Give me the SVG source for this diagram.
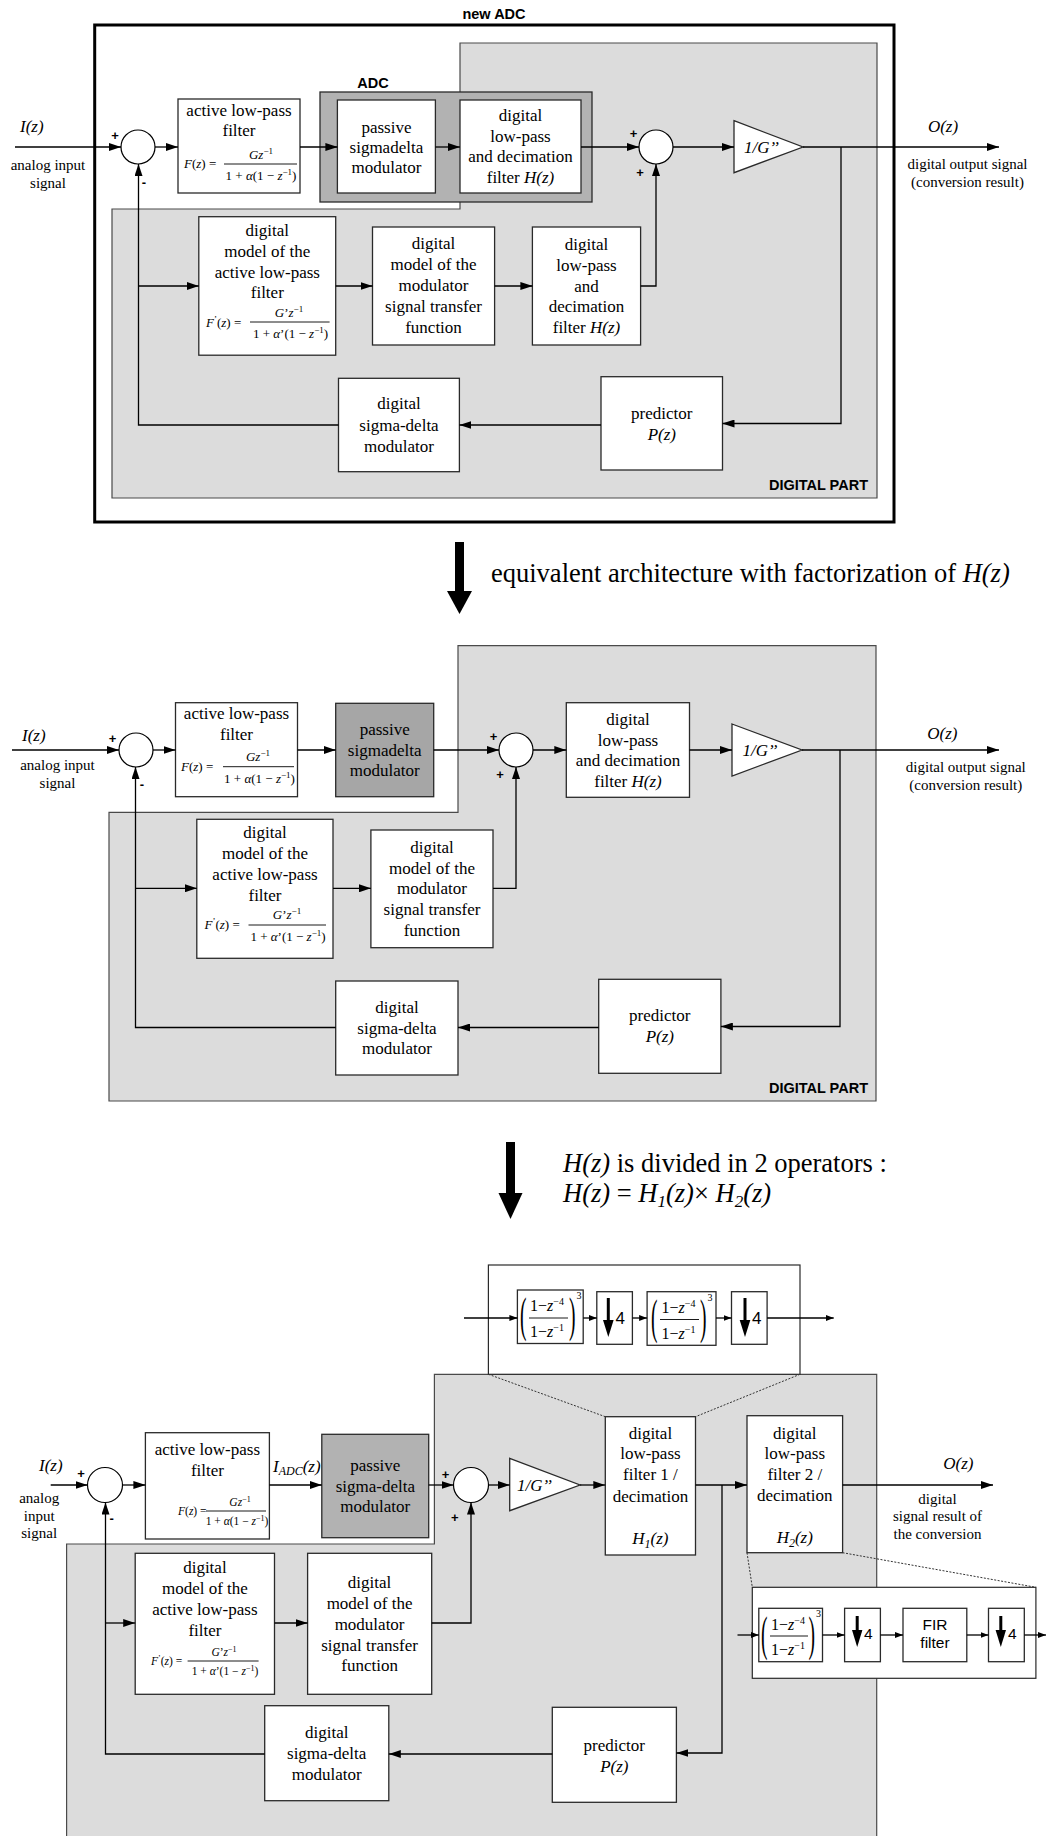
<svg xmlns="http://www.w3.org/2000/svg" width="1047" height="1836" viewBox="0 0 1047 1836">
<style>
.bg{fill:#fff}
.nd{fill:#fff;stroke:#2a2a2a;stroke-width:1.3}
.dk{fill:#b2b2b2;stroke:#2a2a2a;stroke-width:1.3}
.dk2{fill:#a6a6a6;stroke:#2a2a2a;stroke-width:1.3}
.gr{fill:#dcdcdc;stroke:#4a4a4a;stroke-width:1.2}
.zb{fill:#fff;stroke:#2a2a2a;stroke-width:1.2}
.sum{fill:#fff;stroke:#000;stroke-width:1.2}
.c{fill:none;stroke:#000;stroke-width:1.3}
.a{marker-end:url(#ah)}
.as{marker-end:url(#as)}
.dot{fill:none;stroke:#333;stroke-width:1;stroke-dasharray:2 1.5}
.bar{stroke:#000;stroke-width:0.9}
.t{font-family:"Liberation Serif","Times New Roman",serif;font-size:17px;text-anchor:middle;fill:#000}
.s{font-family:"Liberation Serif","Times New Roman",serif;font-size:15px;text-anchor:middle;fill:#000}
.i{font-style:italic}
.f{font-family:"Liberation Serif","Times New Roman",serif;font-size:13px;fill:#000}
.fs{font-family:"Liberation Serif","Times New Roman",serif;font-size:11.5px;fill:#000}
.m{text-anchor:middle}
.st{text-anchor:start}
.b{font-family:"Liberation Sans",Arial,sans-serif;font-weight:bold;font-size:14.5px;fill:#000}
.pm{font-family:"Liberation Sans",Arial,sans-serif;font-weight:bold;font-size:13px;text-anchor:middle;fill:#000}
.big{font-family:"Liberation Serif","Times New Roman",serif;font-size:26.5px;fill:#000}
.sa{font-family:"Liberation Sans",Arial,sans-serif;fill:#000}
.cf{font-family:"Liberation Serif","Times New Roman",serif;font-size:16px;text-anchor:middle;fill:#000}
.par{font-family:"Liberation Serif","Times New Roman",serif;font-size:26px;fill:#000}
.sup3{font-family:"Liberation Serif","Times New Roman",serif;font-size:10px;fill:#000}
</style>
<defs>
<marker id="ah" viewBox="0 0 12 8" refX="12" refY="4" markerWidth="12" markerHeight="8" markerUnits="userSpaceOnUse" orient="auto"><path d="M0,0L12,4L0,8z" fill="#000"/></marker>
<marker id="as" viewBox="0 0 8 6" refX="8" refY="3" markerWidth="8" markerHeight="6" markerUnits="userSpaceOnUse" orient="auto"><path d="M0,0L8,3L0,6z" fill="#000"/></marker>
</defs>
<rect class="bg" x="0" y="0" width="1047" height="1836"/>

<!-- ================= SECTION 1 ================= -->
<g id="s1-frame">
<rect x="94.7" y="25" width="799.3" height="497" fill="#fff" stroke="#000" stroke-width="3"/>
<text class="b" x="494" y="18.5" text-anchor="middle">new ADC</text>
</g>
<g id="s1-digital-part">
<path class="gr" d="M460,43H877V498H112V209H460Z"/>
<text class="b" x="868" y="490" text-anchor="end">DIGITAL PART</text>
</g>
<g id="s1-adc">
<rect class="dk" x="320" y="92" width="272" height="110"/>
<text class="b" x="373" y="87.5" text-anchor="middle">ADC</text>
</g>
<g id="s1-sum1"><circle class="sum" cx="138" cy="147" r="17"/>
<text class="pm" x="115" y="139.5">+</text><text class="pm" x="144" y="187">-</text></g>
<g id="s1-alpf">
<rect class="nd" x="178" y="99" width="122" height="94"/>
<text class="t" x="239" y="116">active low-pass</text>
<text class="t" x="239" y="136">filter</text>
<text class="f" x="184" y="168"><tspan class="i">F</tspan>(<tspan class="i">z</tspan>) =</text>
<text class="f m" x="261" y="159"><tspan class="i">Gz</tspan><tspan dy="-5" font-size="9">−1</tspan></text>
<line class="bar" x1="224" y1="164" x2="297" y2="164"/>
<text class="f m" x="261" y="180">1 + <tspan class="i">α</tspan>(1 − <tspan class="i">z</tspan><tspan dy="-5" font-size="9">−1</tspan><tspan dy="5">)</tspan></text>
</g>
<g id="s1-psdm">
<rect class="nd" x="337.4" y="100" width="98" height="93"/>
<text class="t" x="386.4" y="132.5">passive</text>
<text class="t" x="386.4" y="152.5">sigmadelta</text>
<text class="t" x="386.4" y="172.5">modulator</text>
</g>
<g id="s1-dlpf">
<rect class="nd" x="460" y="100" width="121" height="93"/>
<text class="t" x="520.5" y="121">digital</text>
<text class="t" x="520.5" y="142">low-pass</text>
<text class="t" x="520.5" y="162">and decimation</text>
<text class="t" x="520.5" y="183">filter <tspan class="i">H(z)</tspan></text>
</g>
<g id="s1-sum2"><circle class="sum" cx="656" cy="147" r="17"/>
<text class="pm" x="633.6" y="137.5">+</text><text class="pm" x="640" y="176.5">+</text></g>
<g id="s1-gain">
<polygon class="nd" points="734,120.7 803,147 734,172.7"/>
<text class="t i st" x="744" y="153">1/G’’</text>
</g>
<g id="s1-io">
<text class="t i st" x="20" y="132">I(z)</text>
<text class="s" x="48" y="170">analog input</text>
<text class="s" x="48" y="187.5">signal</text>
<text class="t i" x="943" y="132">O(z)</text>
<text class="s" x="967.5" y="169">digital output signal</text>
<text class="s" x="967.5" y="186.5">(conversion result)</text>
</g>
<g id="s1-mlpf">
<rect class="nd" x="198.8" y="216.7" width="136.9" height="138.5"/>
<text class="t" x="267.3" y="236">digital</text>
<text class="t" x="267.3" y="257">model of the</text>
<text class="t" x="267.3" y="278">active low-pass</text>
<text class="t" x="267.3" y="298">filter</text>
<text class="f" x="206" y="327"><tspan class="i">F</tspan><tspan dy="-5" font-size="9">’</tspan><tspan dy="5">(</tspan><tspan class="i">z</tspan>) =</text>
<text class="f m" x="289" y="317"><tspan class="i">G</tspan>’<tspan class="i">z</tspan><tspan dy="-5" font-size="9">−1</tspan></text>
<line class="bar" x1="250" y1="322" x2="329.6" y2="322"/>
<text class="f m" x="290.5" y="338">1 + <tspan class="i">α</tspan>’(1 − <tspan class="i">z</tspan><tspan dy="-5" font-size="9">−1</tspan><tspan dy="5">)</tspan></text>
</g>
<g id="s1-mstf">
<rect class="nd" x="372.5" y="227" width="122.1" height="118"/>
<text class="t" x="433.5" y="249">digital</text>
<text class="t" x="433.5" y="270">model of the</text>
<text class="t" x="433.5" y="291">modulator</text>
<text class="t" x="433.5" y="312">signal transfer</text>
<text class="t" x="433.5" y="333">function</text>
</g>
<g id="s1-dlpf2">
<rect class="nd" x="532.4" y="227" width="108.2" height="118"/>
<text class="t" x="586.5" y="250">digital</text>
<text class="t" x="586.5" y="271">low-pass</text>
<text class="t" x="586.5" y="292">and</text>
<text class="t" x="586.5" y="312">decimation</text>
<text class="t" x="586.5" y="333">filter <tspan class="i">H(z)</tspan></text>
</g>
<g id="s1-dsdm">
<rect class="nd" x="338.5" y="378.3" width="120.9" height="93.4"/>
<text class="t" x="399" y="409">digital</text>
<text class="t" x="399" y="430.5">sigma-delta</text>
<text class="t" x="399" y="452">modulator</text>
</g>
<g id="s1-pred">
<rect class="nd" x="601" y="376.7" width="121.5" height="93.3"/>
<text class="t" x="661.8" y="419">predictor</text>
<text class="t i" x="661.8" y="440">P(z)</text>
</g>
<g id="s1-connectors">
<path class="c a" d="M15,147H121"/>
<path class="c a" d="M155,147H178"/>
<path class="c a" d="M300,147H337.4"/>
<path class="c a" d="M435.4,147H460"/>
<path class="c a" d="M581,147H639"/>
<path class="c a" d="M673,147H734"/>
<path class="c a" d="M803,147H999"/>
<path class="c a" d="M841,147V423.5H722.5"/>
<path class="c a" d="M601,425H459.4"/>
<path class="c a" d="M338.5,425H138.5V164"/>
<path class="c a" d="M138.5,286H198.8"/>
<path class="c a" d="M335.7,286H372.5"/>
<path class="c a" d="M494.6,286H532.4"/>
<path class="c a" d="M640.6,286H656V164"/>
</g>

<!-- transition 1 -->
<g id="t1">
<rect x="455" y="542" width="9" height="51" fill="#000"/>
<polygon points="447,591 472,591 459.5,614" fill="#000"/>
<text class="big" x="491" y="582">equivalent architecture with factorization of <tspan class="i">H(z)</tspan></text>
</g>

<!-- ================= SECTION 2 ================= -->
<g id="s2-digital-part">
<path class="gr" d="M458,645.7H876V1101H109V812.3H458Z"/>
<text class="b" x="868" y="1093" text-anchor="end">DIGITAL PART</text>
</g>
<g id="s2-sum1"><circle class="sum" cx="136" cy="750" r="17"/>
<text class="pm" x="112.6" y="742.5">+</text><text class="pm" x="142" y="789">-</text></g>
<g id="s2-alpf">
<rect class="nd" x="175.5" y="702.7" width="122" height="94"/>
<text class="t" x="236.5" y="719">active low-pass</text>
<text class="t" x="236.5" y="740">filter</text>
<text class="f" x="181" y="771"><tspan class="i">F</tspan>(<tspan class="i">z</tspan>) =</text>
<text class="f m" x="258" y="761"><tspan class="i">Gz</tspan><tspan dy="-5" font-size="9">−1</tspan></text>
<line class="bar" x1="223" y1="766.7" x2="294" y2="766.7"/>
<text class="f m" x="259.5" y="783">1 + <tspan class="i">α</tspan>(1 − <tspan class="i">z</tspan><tspan dy="-5" font-size="9">−1</tspan><tspan dy="5">)</tspan></text>
</g>
<g id="s2-psdm">
<rect class="dk2" x="335.7" y="703.3" width="98" height="93.4"/>
<text class="t" x="384.7" y="735">passive</text>
<text class="t" x="384.7" y="755.5">sigmadelta</text>
<text class="t" x="384.7" y="776">modulator</text>
</g>
<g id="s2-sum2"><circle class="sum" cx="516" cy="750" r="17"/>
<text class="pm" x="493.6" y="741">+</text><text class="pm" x="500" y="778.5">+</text></g>
<g id="s2-dlpf">
<rect class="nd" x="566.3" y="702.7" width="123.2" height="94.6"/>
<text class="t" x="628" y="725">digital</text>
<text class="t" x="628" y="746">low-pass</text>
<text class="t" x="628" y="766">and decimation</text>
<text class="t" x="628" y="787">filter <tspan class="i">H(z)</tspan></text>
</g>
<g id="s2-gain">
<polygon class="nd" points="732,724 802,750 732,776"/>
<text class="t i st" x="742.5" y="756">1/G’’</text>
</g>
<g id="s2-io">
<text class="t i st" x="22" y="741">I(z)</text>
<text class="s" x="57.5" y="770">analog input</text>
<text class="s" x="57.5" y="788">signal</text>
<text class="t i" x="942.4" y="739">O(z)</text>
<text class="s" x="965.8" y="771.5">digital output signal</text>
<text class="s" x="965.8" y="790">(conversion result)</text>
</g>
<g id="s2-mlpf">
<rect class="nd" x="196.8" y="819.3" width="136.2" height="139"/>
<text class="t" x="265" y="838">digital</text>
<text class="t" x="265" y="859">model of the</text>
<text class="t" x="265" y="880">active low-pass</text>
<text class="t" x="265" y="901">filter</text>
<text class="f" x="204.5" y="929"><tspan class="i">F</tspan><tspan dy="-5" font-size="9">’</tspan><tspan dy="5">(</tspan><tspan class="i">z</tspan>) =</text>
<text class="f m" x="287" y="919"><tspan class="i">G</tspan>’<tspan class="i">z</tspan><tspan dy="-5" font-size="9">−1</tspan></text>
<line class="bar" x1="248.5" y1="925" x2="326" y2="925"/>
<text class="f m" x="288" y="941">1 + <tspan class="i">α</tspan>’(1 − <tspan class="i">z</tspan><tspan dy="-5" font-size="9">−1</tspan><tspan dy="5">)</tspan></text>
</g>
<g id="s2-mstf">
<rect class="nd" x="370.9" y="830" width="122.1" height="117.7"/>
<text class="t" x="432" y="853">digital</text>
<text class="t" x="432" y="874">model of the</text>
<text class="t" x="432" y="894">modulator</text>
<text class="t" x="432" y="915">signal transfer</text>
<text class="t" x="432" y="936">function</text>
</g>
<g id="s2-dsdm">
<rect class="nd" x="335.7" y="981" width="122.3" height="94"/>
<text class="t" x="397" y="1013">digital</text>
<text class="t" x="397" y="1033.5">sigma-delta</text>
<text class="t" x="397" y="1054">modulator</text>
</g>
<g id="s2-pred">
<rect class="nd" x="598.7" y="979.3" width="122.2" height="94"/>
<text class="t" x="659.8" y="1021">predictor</text>
<text class="t i" x="659.8" y="1042">P(z)</text>
</g>
<g id="s2-connectors">
<path class="c a" d="M12,750H119"/>
<path class="c a" d="M153,750H175.5"/>
<path class="c a" d="M297.5,750H335.7"/>
<path class="c a" d="M433.7,750H499"/>
<path class="c a" d="M533,750H566.3"/>
<path class="c a" d="M689.5,750H732"/>
<path class="c a" d="M802,750H999"/>
<path class="c a" d="M840,750V1026.5H720.9"/>
<path class="c a" d="M598.7,1027.5H458"/>
<path class="c a" d="M335.7,1027.5H135.5V767"/>
<path class="c a" d="M135.5,888.3H196.8"/>
<path class="c a" d="M333,888.3H370.9"/>
<path class="c a" d="M493,888.3H516V767"/>
</g>

<!-- transition 2 -->
<g id="t2">
<rect x="506" y="1142" width="9" height="52" fill="#000"/>
<polygon points="498.5,1193 522.5,1193 510.5,1219" fill="#000"/>
<text class="big" x="563" y="1172"><tspan class="i">H(z)</tspan> is divided in 2 operators :</text>
<text class="big" x="563" y="1202"><tspan class="i">H(z)</tspan> = <tspan class="i">H</tspan><tspan class="i" dy="5" font-size="17">1</tspan><tspan class="i" dy="-5">(z)</tspan>× <tspan class="i">H</tspan><tspan class="i" dy="5" font-size="17">2</tspan><tspan class="i" dy="-5">(z)</tspan></text>
</g>

<!-- ================= SECTION 3 ================= -->
<g id="s3-digital-part">
<path class="gr" d="M434.4,1374.3H876.7V1850H66.6V1544H434.4Z"/>
</g>
<g id="s3-zoom1">
<rect class="zb" x="488.4" y="1265" width="311.6" height="109.3"/>
<g id="s3-cic1">
<rect class="nd" x="517.4" y="1290" width="65.8" height="53.5"/>
<text class="par" transform="translate(520,1331) scale(0.75,1.85)">(</text>
<text class="cf" x="547" y="1311">1−<tspan class="i">z</tspan><tspan dy="-6" font-size="10">−4</tspan></text>
<line class="bar" x1="529" y1="1318" x2="568" y2="1318"/>
<text class="cf" x="547" y="1337">1−<tspan class="i">z</tspan><tspan dy="-6" font-size="10">−1</tspan></text>
<text class="par" transform="translate(569,1331) scale(0.75,1.85)">)</text>
<text class="sup3" x="576.5" y="1299">3</text>
</g>
<g id="s3-dec1">
<rect class="nd" x="596.8" y="1291.7" width="35.6" height="52.6"/>
<line x1="608.3" y1="1298" x2="608.3" y2="1322" stroke="#000" stroke-width="3"/>
<polygon points="603,1320 613.6,1320 608.3,1337" fill="#000"/>
<text class="sa" x="615.5" y="1324" font-size="17">4</text>
</g>
<g id="s3-cic2">
<rect class="nd" x="647.1" y="1291.7" width="68.9" height="53.6"/>
<text class="par" transform="translate(651,1332.5) scale(0.75,1.85)">(</text>
<text class="cf" x="678.5" y="1312.5">1−<tspan class="i">z</tspan><tspan dy="-6" font-size="10">−4</tspan></text>
<line class="bar" x1="660" y1="1319.5" x2="699" y2="1319.5"/>
<text class="cf" x="678.5" y="1338.5">1−<tspan class="i">z</tspan><tspan dy="-6" font-size="10">−1</tspan></text>
<text class="par" transform="translate(700,1332.5) scale(0.75,1.85)">)</text>
<text class="sup3" x="707.5" y="1300.5">3</text>
</g>
<g id="s3-dec2">
<rect class="nd" x="731.5" y="1291.7" width="35.6" height="52.6"/>
<line x1="745" y1="1298" x2="745" y2="1322" stroke="#000" stroke-width="3"/>
<polygon points="739.7,1320 750.3,1320 745,1337" fill="#000"/>
<text class="sa" x="752" y="1324" font-size="17">4</text>
</g>
</g>
<g id="s3-zoom2">
<rect class="zb" x="752.3" y="1587.3" width="283.6" height="91"/>
<g id="s3-cic3">
<rect class="nd" x="758.8" y="1608.3" width="63.7" height="53.4"/>
<text class="par" transform="translate(761,1649.5) scale(0.75,1.85)">(</text>
<text class="cf" x="788" y="1629.5">1−<tspan class="i">z</tspan><tspan dy="-6" font-size="10">−4</tspan></text>
<line class="bar" x1="770" y1="1636" x2="808" y2="1636"/>
<text class="cf" x="788" y="1655">1−<tspan class="i">z</tspan><tspan dy="-6" font-size="10">−1</tspan></text>
<text class="par" transform="translate(808.5,1649.5) scale(0.75,1.85)">)</text>
<text class="sup3" x="816" y="1617">3</text>
</g>
<g id="s3-dec3">
<rect class="nd" x="844.6" y="1608.3" width="35.8" height="53.4"/>
<line x1="857.2" y1="1616" x2="857.2" y2="1632" stroke="#000" stroke-width="3"/>
<polygon points="852,1630 862.4,1630 857.2,1647" fill="#000"/>
<text class="sa" x="864" y="1639" font-size="15.5">4</text>
</g>
<g id="s3-fir">
<rect class="nd" x="903" y="1608.3" width="63.8" height="53.4"/>
<text class="sa" x="935" y="1630" font-size="15.5" text-anchor="middle">FIR</text>
<text class="sa" x="935" y="1648" font-size="15.5" text-anchor="middle">filter</text>
</g>
<g id="s3-dec4">
<rect class="nd" x="988.5" y="1608.3" width="35.8" height="53.4"/>
<line x1="1000.8" y1="1616" x2="1000.8" y2="1632" stroke="#000" stroke-width="3"/>
<polygon points="995.6,1630 1006,1630 1000.8,1647" fill="#000"/>
<text class="sa" x="1008" y="1639" font-size="15.5">4</text>
</g>
</g>
<g id="s3-sum1"><circle class="sum" cx="105" cy="1485" r="17.5"/>
<text class="pm" x="81" y="1477.5">+</text><text class="pm" x="111.6" y="1523">-</text></g>
<g id="s3-alpf">
<rect class="nd" x="145.4" y="1432.7" width="124" height="106.3"/>
<text class="t" x="207.4" y="1455">active low-pass</text>
<text class="t" x="207.4" y="1476">filter</text>
<text class="fs" x="178" y="1515"><tspan class="i">F</tspan>(<tspan class="i">z</tspan>) =</text>
<text class="fs m" x="240" y="1506"><tspan class="i">Gz</tspan><tspan dy="-4.5" font-size="8">−1</tspan></text>
<line class="bar" x1="206" y1="1511" x2="266" y2="1511"/>
<text class="fs m" x="237" y="1525">1 + <tspan class="i">α</tspan>(1 − <tspan class="i">z</tspan><tspan dy="-4.5" font-size="8">−1</tspan><tspan dy="4.5">)</tspan></text>
</g>
<g id="s3-iadc">
<text class="t i st" x="273" y="1472">I<tspan dy="3" font-size="12">ADC</tspan><tspan dy="-3">(z)</tspan></text>
</g>
<g id="s3-psdm">
<rect class="dk" x="321.8" y="1434.3" width="106.9" height="103.4"/>
<text class="t" x="375.3" y="1471">passive</text>
<text class="t" x="375.3" y="1491.5">sigma-delta</text>
<text class="t" x="375.3" y="1512">modulator</text>
</g>
<g id="s3-sum2"><circle class="sum" cx="471" cy="1485" r="17.5"/>
<text class="pm" x="445.6" y="1478.5">+</text><text class="pm" x="454.7" y="1521.5">+</text></g>
<g id="s3-gain">
<polygon class="nd" points="509.7,1458.3 580,1485 509.7,1510.7"/>
<text class="t i st" x="517" y="1491">1/G’’</text>
</g>
<g id="s3-f1">
<rect class="nd" x="605.3" y="1416.7" width="90.2" height="138.3"/>
<text class="t" x="650.4" y="1438.5">digital</text>
<text class="t" x="650.4" y="1459">low-pass</text>
<text class="t" x="650.4" y="1480">filter 1 /</text>
<text class="t" x="650.4" y="1501.5">decimation</text>
<text class="t i" x="650.4" y="1544">H<tspan dy="4" font-size="12">1</tspan><tspan dy="-4">(z)</tspan></text>
</g>
<g id="s3-f2">
<rect class="nd" x="747" y="1415.7" width="95.6" height="137"/>
<text class="t" x="794.8" y="1438.5">digital</text>
<text class="t" x="794.8" y="1459">low-pass</text>
<text class="t" x="794.8" y="1480">filter 2 /</text>
<text class="t" x="794.8" y="1501">decimation</text>
<text class="t i" x="794.8" y="1543">H<tspan dy="4" font-size="12">2</tspan><tspan dy="-4">(z)</tspan></text>
</g>
<g id="s3-io">
<text class="t i st" x="39" y="1471">I(z)</text>
<text class="s" x="39.2" y="1503">analog</text>
<text class="s" x="39.2" y="1521">input</text>
<text class="s" x="39.2" y="1538">signal</text>
<text class="t i" x="958.4" y="1469">O(z)</text>
<text class="s" x="937.5" y="1503.5">digital</text>
<text class="s" x="937.5" y="1521">signal result of</text>
<text class="s" x="937.5" y="1538.5">the conversion</text>
</g>
<g id="s3-mlpf">
<rect class="nd" x="135.2" y="1553.3" width="139.3" height="141"/>
<text class="t" x="204.9" y="1573">digital</text>
<text class="t" x="204.9" y="1594">model of the</text>
<text class="t" x="204.9" y="1615">active low-pass</text>
<text class="t" x="204.9" y="1636">filter</text>
<text class="fs" x="151" y="1665"><tspan class="i">F</tspan><tspan dy="-4.5" font-size="8">’</tspan><tspan dy="4.5">(</tspan><tspan class="i">z</tspan>) =</text>
<text class="fs m" x="224" y="1656"><tspan class="i">G</tspan>’<tspan class="i">z</tspan><tspan dy="-4.5" font-size="8">−1</tspan></text>
<line class="bar" x1="187.6" y1="1661" x2="258.6" y2="1661"/>
<text class="fs m" x="225" y="1675">1 + <tspan class="i">α</tspan>’(1 − <tspan class="i">z</tspan><tspan dy="-4.5" font-size="8">−1</tspan><tspan dy="4.5">)</tspan></text>
</g>
<g id="s3-mstf">
<rect class="nd" x="307.6" y="1553.3" width="124.1" height="141"/>
<text class="t" x="369.6" y="1588">digital</text>
<text class="t" x="369.6" y="1609">model of the</text>
<text class="t" x="369.6" y="1629.5">modulator</text>
<text class="t" x="369.6" y="1651">signal transfer</text>
<text class="t" x="369.6" y="1671">function</text>
</g>
<g id="s3-dsdm">
<rect class="nd" x="264.7" y="1705.7" width="124.1" height="95"/>
<text class="t" x="326.7" y="1738">digital</text>
<text class="t" x="326.7" y="1759">sigma-delta</text>
<text class="t" x="326.7" y="1779.5">modulator</text>
</g>
<g id="s3-pred">
<rect class="nd" x="552.3" y="1707.3" width="124.1" height="95"/>
<text class="t" x="614.3" y="1751">predictor</text>
<text class="t i" x="614.3" y="1771.5">P(z)</text>
</g>
<g id="s3-connectors">
<path class="c a" d="M50.7,1485H87.5"/>
<path class="c a" d="M122.5,1485H145.4"/>
<path class="c a" d="M269.4,1485H321.8"/>
<path class="c a" d="M428.7,1485H453.5"/>
<path class="c a" d="M488.5,1485H509.7"/>
<path class="c a" d="M580,1485H605.3"/>
<path class="c a" d="M695.5,1485H747"/>
<path class="c a" d="M842.6,1485H993"/>
<path class="c a" d="M722,1485V1753H676.4"/>
<path class="c a" d="M552.3,1754H388.8"/>
<path class="c a" d="M264.7,1754H105.5V1502.5"/>
<path class="c a" d="M105.5,1623H135.2"/>
<path class="c a" d="M274.5,1623H307.6"/>
<path class="c a" d="M431.7,1623H471V1502.5"/>
<path class="c as" d="M464,1318H517.4"/>
<path class="c as" d="M583.2,1318H596.8"/>
<path class="c as" d="M632.4,1318H647.1"/>
<path class="c as" d="M716,1318H731.5"/>
<path class="c as" d="M767.1,1318H833.7"/>
<path class="c as" d="M737.5,1635H758.8"/>
<path class="c as" d="M822.5,1635H844.6"/>
<path class="c as" d="M880.4,1635H903"/>
<path class="c as" d="M966.8,1635H988.5"/>
<path class="c as" d="M1024.3,1635H1046"/>
<path class="dot" d="M488.4,1374.3L605.3,1416.7"/>
<path class="dot" d="M800,1374.3L695.5,1416.7"/>
<path class="dot" d="M747,1552.7L752.3,1587.3"/>
<path class="dot" d="M842.6,1552.7L1035.9,1587.3"/>
</g>
</svg>
